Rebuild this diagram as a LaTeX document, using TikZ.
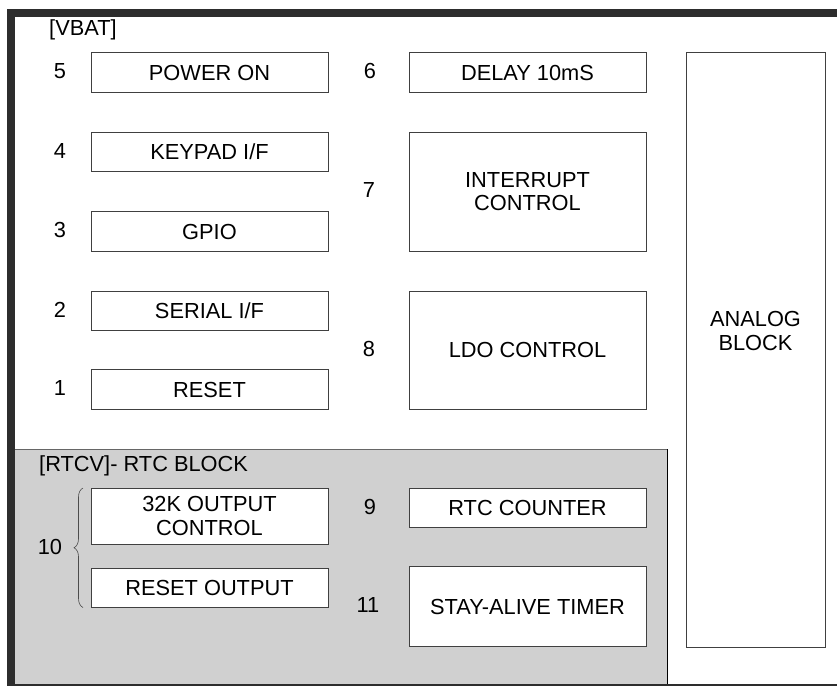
\documentclass[tikz,border=0pt]{standalone}
\usepackage{fontspec}
\setmainfont{Liberation Sans}
\usetikzlibrary{positioning,decorations.pathreplacing}
\definecolor{rtcgray}{RGB}{208,208,208}
\definecolor{framegray}{RGB}{45,45,45}

\begin{document}
\begin{tikzpicture}[x=1pt, y=-1pt, node distance=40pt,
	blk/.style={draw=black!75, line width=0.9pt, fill=white, minimum width=237pt, minimum height=39.5pt, inner sep=0pt, outer sep=0pt, align=center, font=\fontsize{21.8}{23.5}\selectfont},
	num/.style={inner sep=0pt, yshift=1.5pt, font=\fontsize{21.8}{23.5}\selectfont}]
	\useasboundingbox (0,0) rectangle (837,685);
	\begin{scope}
		\clip (0,0) rectangle (837,685);
		% rtc area and frame
		\fill[rtcgray] (11,449) rectangle (667,690);
		\draw[black!60, line width=0.8pt] (11,449) -- (667,449);
		\draw[black, line width=0.9pt] (667,449) -- (667,690);
		\draw[framegray, line width=8pt] (11,13) rectangle (843,688);
	\end{scope}
	
	\node[num, anchor=west] (vbat) at (49,31) {[VBAT]};
	\node[num, anchor=west] (rtcv) at (39,467) {[RTCV]- RTC BLOCK};
	
	\node[blk] (pwr) at (209.5,72.5) {POWER ON};
	\node[blk, below=of pwr] (key) {KEYPAD I/F};
	\node[blk, below=of key] (gpio) {GPIO};
	\node[blk, below=of gpio] (ser) {SERIAL I/F};
	\node[blk, below=39pt of ser] (rst) {RESET};
	
	\node[blk] (dly) at (527.5,72.5) {DELAY 10mS};
	\node[blk, minimum height=119pt, below=of dly] (irq) {INTERRUPT\\CONTROL};
	\node[blk, minimum height=118pt, below=of irq] (ldo) {LDO CONTROL};
	
	\node[blk, minimum height=56pt] (k32) at (209.5,516) {32K OUTPUT\\CONTROL};
	\node[blk, below=24pt of k32] (rout) {RESET OUTPUT};
	\node[blk] (rtc) at (527.5,508) {RTC COUNTER};
	\node[blk, minimum height=80pt, below=39pt of rtc] (stay) {STAY-ALIVE TIMER};
	
	\node[blk, minimum width=139pt, minimum height=595pt] (ana) at (755.5,349.5) {};
	\node[num, yshift=17pt, align=center] (analbl) at (ana) {ANALOG\\BLOCK};
	
	\node[num] (n5) at (60,0 |- pwr) {5};
	\node[num] (n4) at (60,0 |- key) {4};
	\node[num] (n3) at (60,0 |- gpio) {3};
	\node[num] (n2) at (60,0 |- ser) {2};
	\node[num] (n1) at (60,0 |- rst) {1};
	\node[num] (n6) at (370,0 |- dly) {6};
	\node[num] (n7) at (369,0 |- irq) {7};
	\node[num] (n8) at (369,0 |- ldo) {8};
	\node[num] (n9) at (370,0 |- rtc) {9};
	\node[num] (n11) at (368,0 |- stay) {11};
	\node[num] (n10) at (50,548) {10};
	
	\draw[black!70, line width=0.6pt, decorate, decoration={brace, amplitude=9pt}]
		([xshift=-8pt]rout.south west) -- ([xshift=-8pt]k32.north west);
\end{tikzpicture}
\end{document}
